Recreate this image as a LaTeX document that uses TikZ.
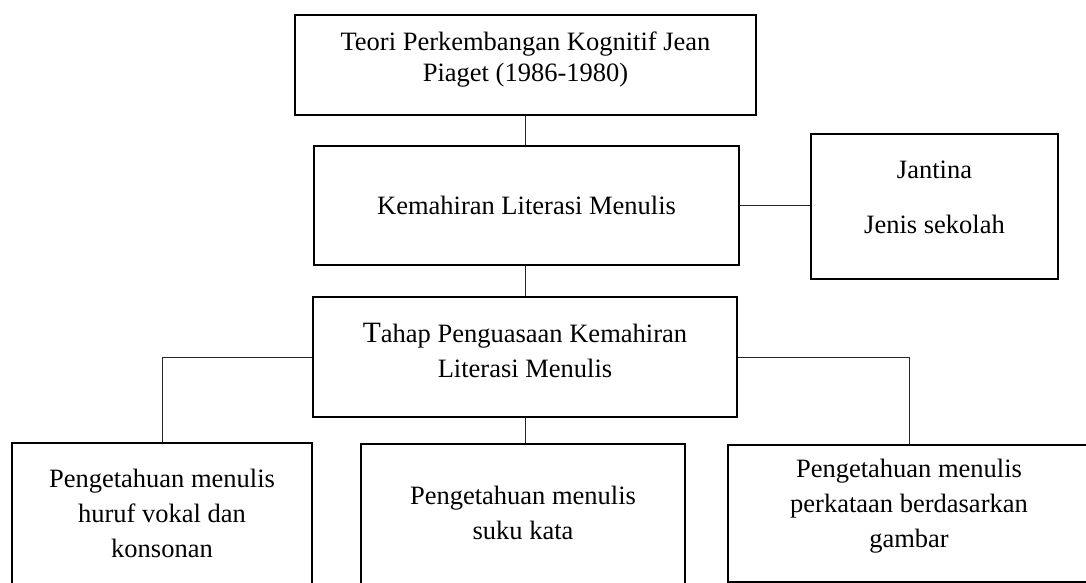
\documentclass[tikz,border=0pt]{standalone}
\usepackage{fontspec}
\setmainfont{Liberation Serif}
\usepackage{tikz}

\begin{document}
\begin{tikzpicture}[x=1pt, y=-1pt,
	box/.style = {draw, line width=1.8pt, align=center, inner sep=0pt, font=\fontsize{26.5}{35}\selectfont},
	link/.style = {line width=1pt, draw=black!85}]
	\useasboundingbox (0,0) rectangle (1086,583);
	\clip (0,0) rectangle (1086,583);
	\node [box, minimum width=461pt, minimum height=100pt, text depth=16pt, font=\fontsize{26.5}{31}\selectfont] (teori) at (525.5, 65) {Teori Perkembangan Kognitif Jean\\Piaget (1986-1980)};
	\node [box, minimum width=425pt, minimum height=119pt] (kemahiran) at (526.5, 205.5) {Kemahiran Literasi Menulis};
	\node [box, minimum width=247pt, minimum height=145pt, text depth=18pt] (jantina) at (934.5, 206.5) {Jantina\\[20pt]Jenis sekolah};
	\node [box, minimum width=424pt, minimum height=120pt, text depth=14pt] (tahap) at (525, 357) {{\fontsize{29.5}{35}\selectfont T}ahap Penguasaan Kemahiran\\Literasi Menulis};
	\node [box, minimum width=300pt, minimum height=150pt, text depth=9pt] (vokal) at (162, 518) {Pengetahuan menulis\\huruf vokal dan\\konsonan};
	\node [box, minimum width=324pt, minimum height=150pt, text depth=13pt] (suku) at (523, 519) {Pengetahuan menulis\\suku kata};
	\node [box, minimum width=362pt, minimum height=137pt, text depth=20pt] (gambar) at (909, 513.5) {Pengetahuan menulis\\perkataan berdasarkan\\gambar};
	% penghubung
	\draw [link] (tahap.north |- teori.south) -- (tahap.north |- kemahiran.north);
	\draw [link] (kemahiran.east) -- (kemahiran.east -| jantina.west);
	\draw [link] (tahap.north |- kemahiran.south) -- (tahap.north);
	\draw [link] (tahap.south) -- (tahap.south |- suku.north);
	\draw [link] (tahap.west) -| (vokal.north);
	\draw [link] (tahap.east) -| (gambar.north);
\end{tikzpicture}
\end{document}
